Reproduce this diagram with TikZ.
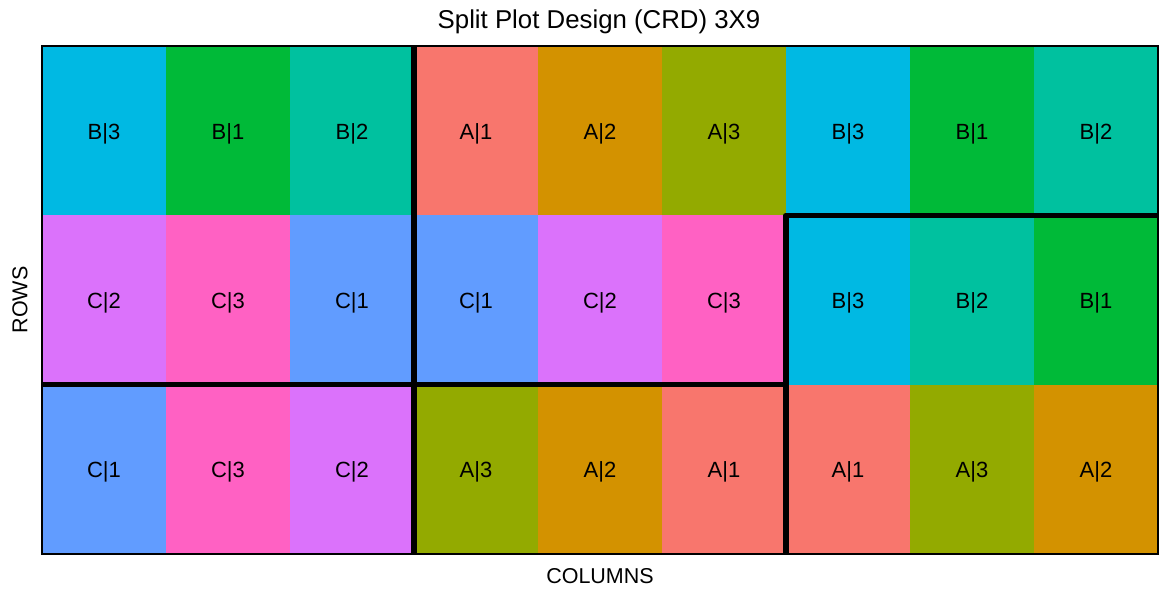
\documentclass[tikz,border=0pt]{standalone}
\usepackage{fontspec}
\setmainfont{Liberation Sans}
\definecolor{A1}{HTML}{F8766D}
\definecolor{A2}{HTML}{D39200}
\definecolor{A3}{HTML}{93AA00}
\definecolor{B1}{HTML}{00BA38}
\definecolor{B2}{HTML}{00C19F}
\definecolor{B3}{HTML}{00B9E3}
\definecolor{C1}{HTML}{619CFF}
\definecolor{C2}{HTML}{DB72FB}
\definecolor{C3}{HTML}{FF61C3}
\tikzset{
  cell/.style={draw=none, minimum width=124pt, minimum height=169.333pt, inner sep=0pt, outer sep=0pt, text height=17pt, text depth=0pt, font=\fontsize{22}{24}\selectfont, text=black},
  thick rule/.style={line width=5.5pt, line join=round, line cap=butt},
  axislabel/.style={font=\fontsize{21.5}{24}\selectfont},
  titlelabel/.style={font=\fontsize{25.8}{28}\selectfont}
}
\begin{document}
\begin{tikzpicture}[x=1pt,y=-1pt]
\useasboundingbox (0,0) rectangle (1172,598);
\fill[white] (0,0) rectangle (1172,598);
\foreach \r/\lst in {1/{B/3,B/1,B/2,A/1,A/2,A/3,B/3,B/1,B/2},2/{C/2,C/3,C/1,C/1,C/2,C/3,B/3,B/2,B/1},3/{C/1,C/3,C/2,A/3,A/2,A/1,A/1,A/3,A/2}}{
  \foreach \L/\N [count=\i] in \lst {
    \node[cell, fill=\L\N] (r\r c\i) at ({42+124*(\i-0.5)},{46+169.333*(\r-0.5)}) {\L|\N};
  }
}
\draw[line width=1.6pt] (r1c1.north west) rectangle (r3c9.south east);
\draw[thick rule] (r1c4.north west) -- (r3c4.south west);
\draw[thick rule] (r3c1.north west) -- (r3c6.north east);
\draw[thick rule] (r3c7.south west) -- (r2c7.north west) -- (r2c9.north east);
\node[titlelabel] (title) at (599,22) {Split Plot Design (CRD) 3X9};
\node[axislabel] (xlab) at (600,576) {COLUMNS};
\node[axislabel, rotate=90] (ylab) at (20,300) {ROWS};
\end{tikzpicture}
\end{document}
